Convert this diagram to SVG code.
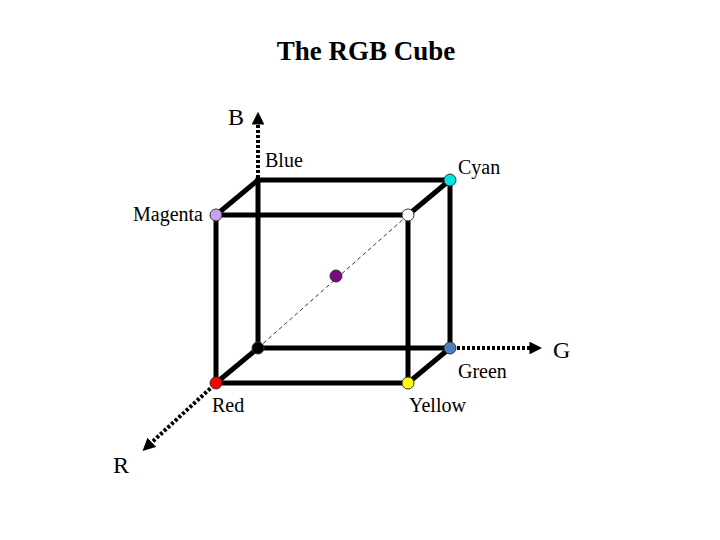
<svg xmlns="http://www.w3.org/2000/svg" width="720" height="540" viewBox="0 0 720 540">
<defs>
<style>
.edge{stroke:#000;stroke-width:5;fill:none;stroke-linecap:round}
.axis{stroke:#000;stroke-width:4;fill:none;stroke-dasharray:3 2}
.diag{stroke:#000;stroke-width:0.8;fill:none;stroke-dasharray:4 3}
.v{stroke:#333;stroke-width:1}
.lbl{font-family:"Liberation Serif",serif;font-size:20px;fill:#000}
.ax{font-family:"Liberation Serif",serif;font-size:24px;fill:#000}
</style>
<marker id="ah" viewBox="0 0 10 10" refX="2" refY="5" markerWidth="3.2" markerHeight="3.2" orient="auto" markerUnits="strokeWidth">
<path d="M0,0 L10,5 L0,10 z" fill="#000"/>
</marker>
</defs>
<rect width="720" height="540" fill="#fff"/>
<text x="366" y="60" text-anchor="middle" font-family="Liberation Serif,serif" font-size="27" font-weight="bold">The RGB Cube</text>
<g id="connectors">
<line class="axis" x1="258" y1="178" x2="258" y2="122" marker-end="url(#ah)"/>
<line class="axis" x1="452" y1="348" x2="532" y2="348" marker-end="url(#ah)"/>
<line class="axis" x1="214" y1="385" x2="150" y2="444" marker-end="url(#ah)"/>
<line class="diag" x1="258" y1="348" x2="408" y2="215"/>
<path class="edge" d="M258,180 H450 V348 H258 Z"/>
<path class="edge" d="M216,215 H408 V383 H216 Z"/>
<line class="edge" x1="216" y1="215" x2="258" y2="180"/>
<line class="edge" x1="408" y1="215" x2="450" y2="180"/>
<line class="edge" x1="408" y1="383" x2="450" y2="348"/>
<line class="edge" x1="216" y1="383" x2="258" y2="348"/>
</g>
<g id="black"><circle class="v" cx="258" cy="348" r="6" fill="#000"/></g>
<g id="green"><circle class="v" cx="450" cy="348" r="6" fill="#4f7fc0"/><text class="lbl" x="458" y="378">Green</text></g>
<g id="red"><circle class="v" cx="216" cy="383" r="6" fill="#ff0000"/><text class="lbl" x="212" y="412">Red</text></g>
<g id="yellow"><circle class="v" cx="408" cy="383" r="6" fill="#ffff00"/><text class="lbl" x="409" y="412">Yellow</text></g>
<g id="blue"><text class="lbl" x="265" y="167">Blue</text></g>
<g id="cyan"><circle class="v" cx="450" cy="180" r="6" fill="#00e5e5"/><text class="lbl" x="458" y="174">Cyan</text></g>
<g id="magenta"><circle class="v" cx="216" cy="215" r="6" fill="#c9a0f0"/><text class="lbl" x="133" y="221">Magenta</text></g>
<g id="white"><circle class="v" cx="408" cy="215" r="6" fill="#fff"/></g>
<g id="gray"><circle class="v" cx="336" cy="276" r="6" fill="#7a0a80"/></g>
<g id="axisB"><text class="ax" x="228" y="125">B</text></g>
<g id="axisG"><text class="ax" x="553" y="358">G</text></g>
<g id="axisR"><text class="ax" x="113" y="473">R</text></g>
</svg>
